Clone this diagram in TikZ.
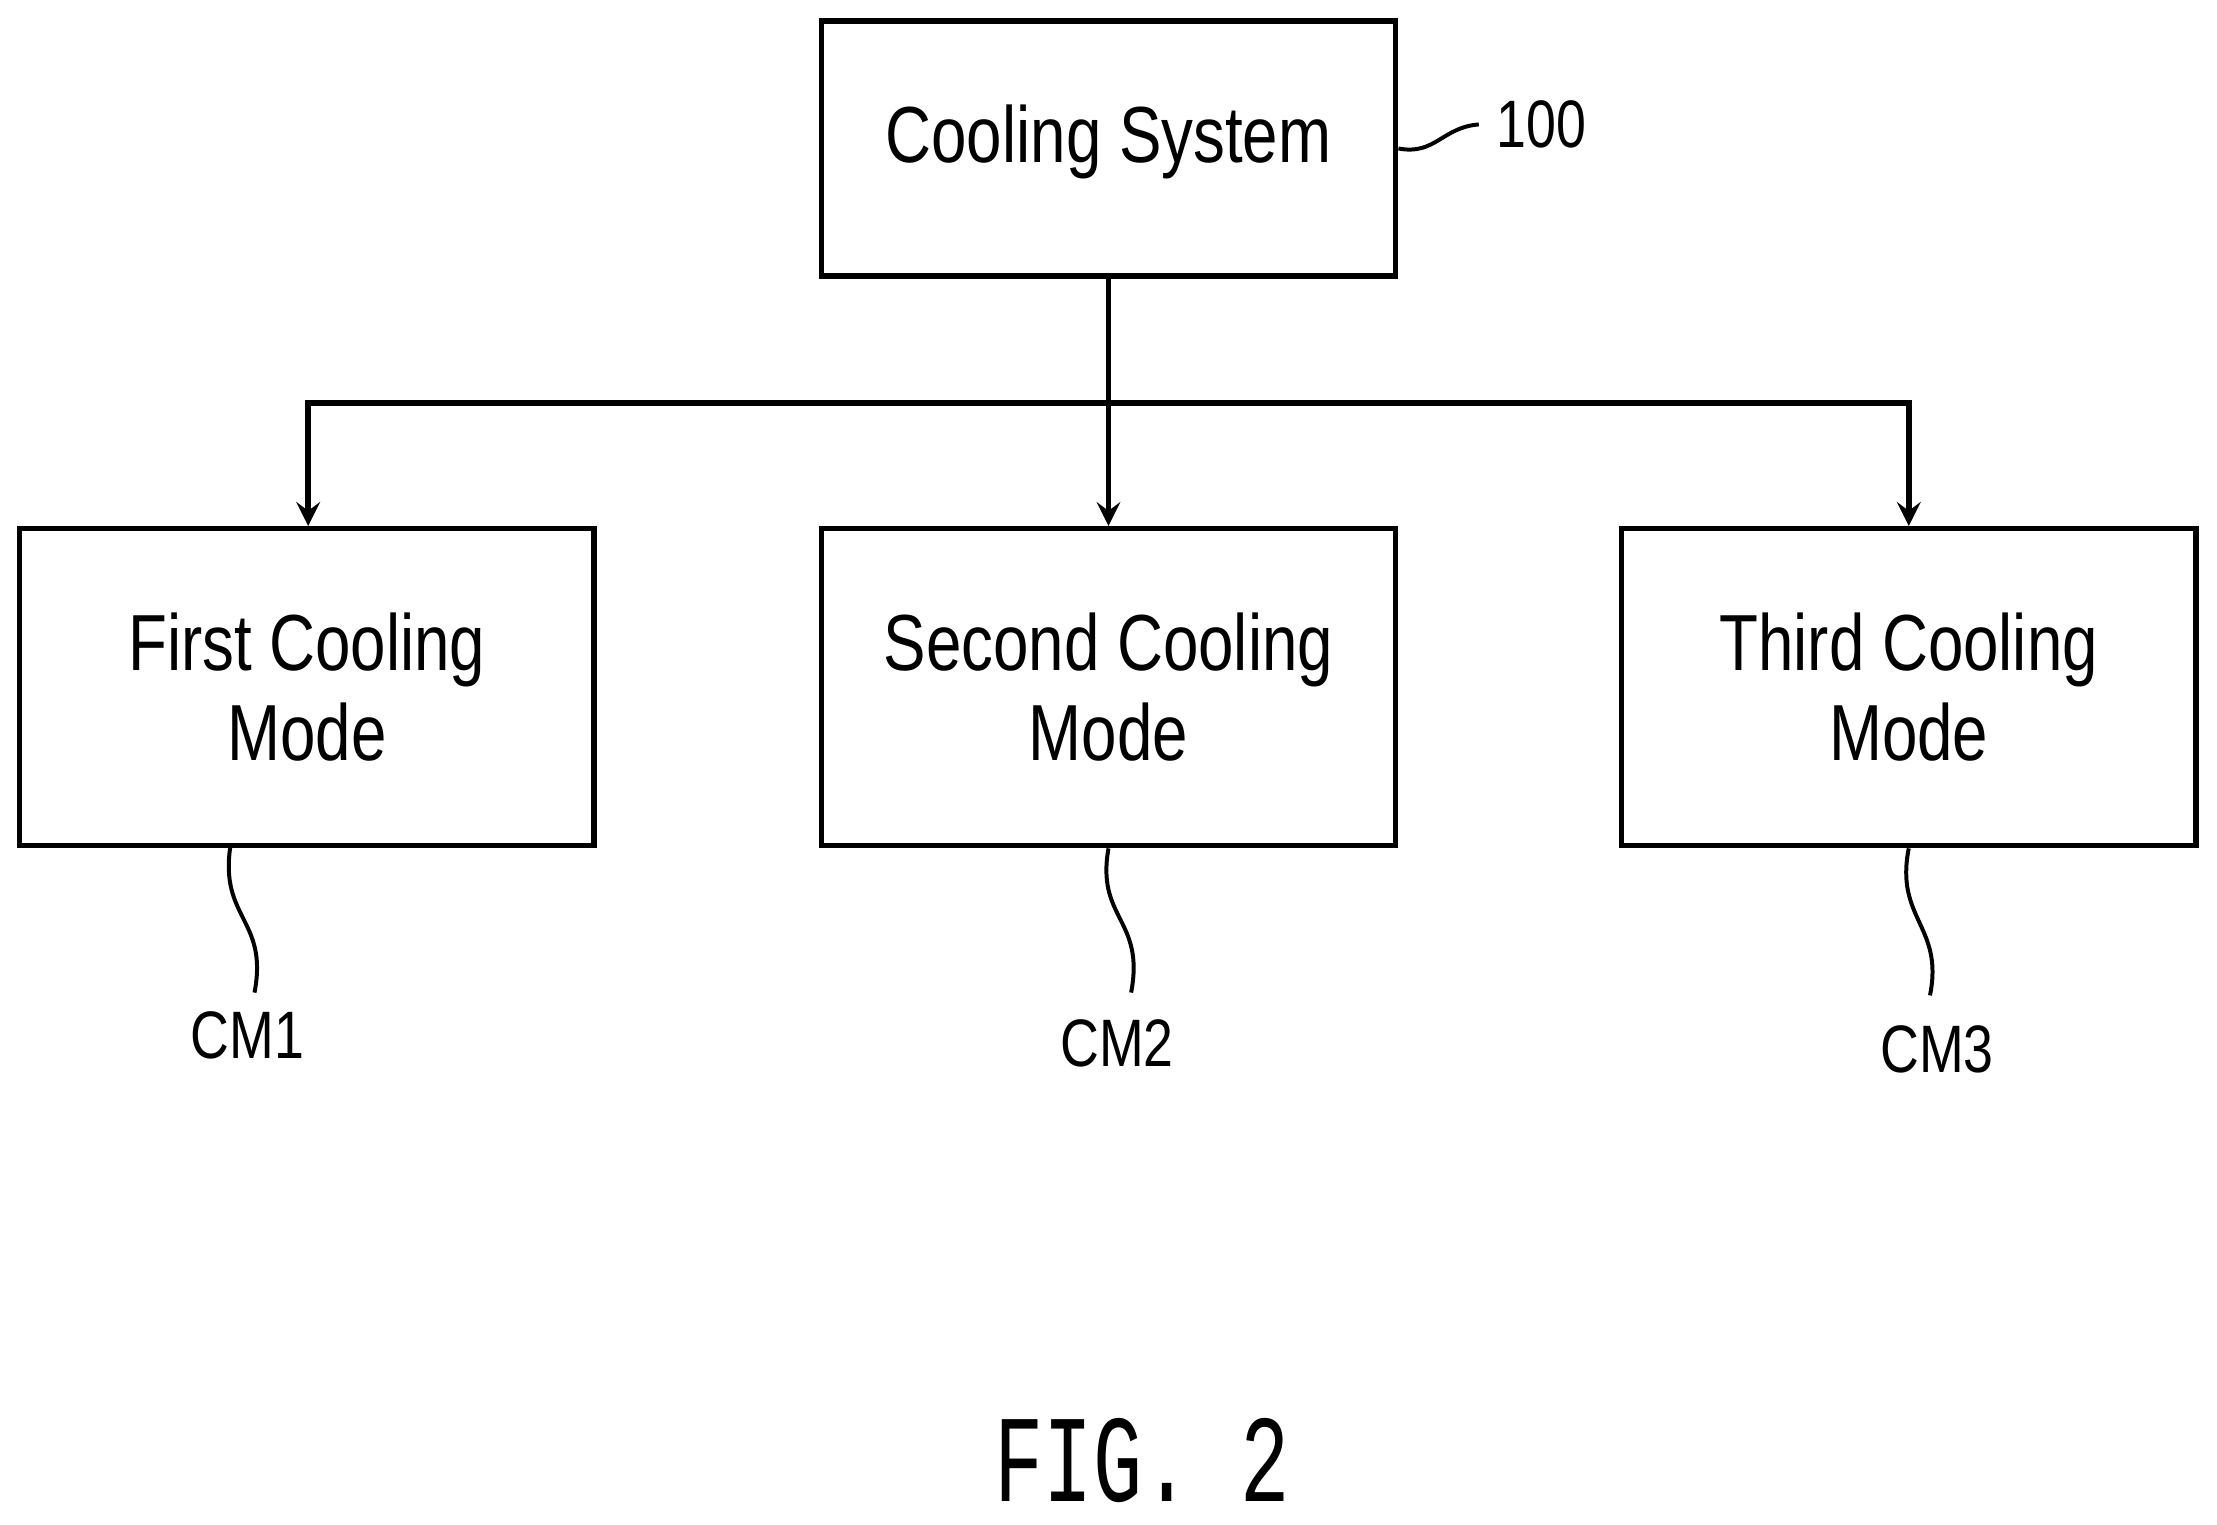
\documentclass[tikz,border=0pt]{standalone}
\usepackage{fontspec}
\setmainfont{Liberation Sans}[FakeStretch=0.8]
\newfontfamily\figfont{Liberation Mono}[FakeStretch=0.66]
\begin{document}
\begin{tikzpicture}[x=0.01cm,y=-0.01cm,
  box/.style={draw, line width=1.1pt, minimum width=4.06cm, minimum height=2.24cm, align=center, font=\fontsize{16}{18}\selectfont},
  lead/.style={line width=0.8pt},
  tag/.style={font=\fontsize{13.5}{16}\selectfont}]
%% Bounding box with the margins of the figure
    \useasboundingbox (0,0) rectangle (1568,1078);
%% The boxes
    \node[box, minimum height=1.8cm, text depth=6pt] (sys) at (784,105) {Cooling System};
    \node[box] (m1) at (217,486) {First Cooling\\Mode};
    \node[box] (m2) at (784,486) {Second Cooling\\Mode};
    \node[box] (m3) at (1350,486) {Third Cooling\\Mode};
%% Branch point and arrows
    \coordinate (split) at (784,285);
    \draw[line width=1.1pt] (sys.south) -- (split);
    \draw[line width=1.1pt, ->, >=stealth] (split) -| (m1.north -| 218,0);
    \draw[line width=1.1pt, ->, >=stealth] (split) -- (m2.north);
    \draw[line width=1.1pt, ->, >=stealth] (split) -| (m3.north);
%% Reference labels with wavy leaders
    \node[tag] (n100) at (1090,88) {100};
    \draw[lead] (sys.east) .. controls (1015,110) and (1020,90) .. (n100.west);
    \node[tag] (c1) at (175,732) {CM1};
    \draw[lead] (163,598) .. controls (155,650) and (190,650) .. (180,702);
    \node[tag] (c2) at (790,738) {CM2};
    \draw[lead] (m2.south) .. controls (775,650) and (810,650) .. (800,702);
    \node[tag] (c3) at (1370,742) {CM3};
    \draw[lead] (m3.south) .. controls (1340,650) and (1375,655) .. (1365,704);
%% Caption
    \node[font=\figfont\fontsize{25}{28}\selectfont] (fig) at (808,1033) {FIG. 2};
\end{tikzpicture}
\end{document}
